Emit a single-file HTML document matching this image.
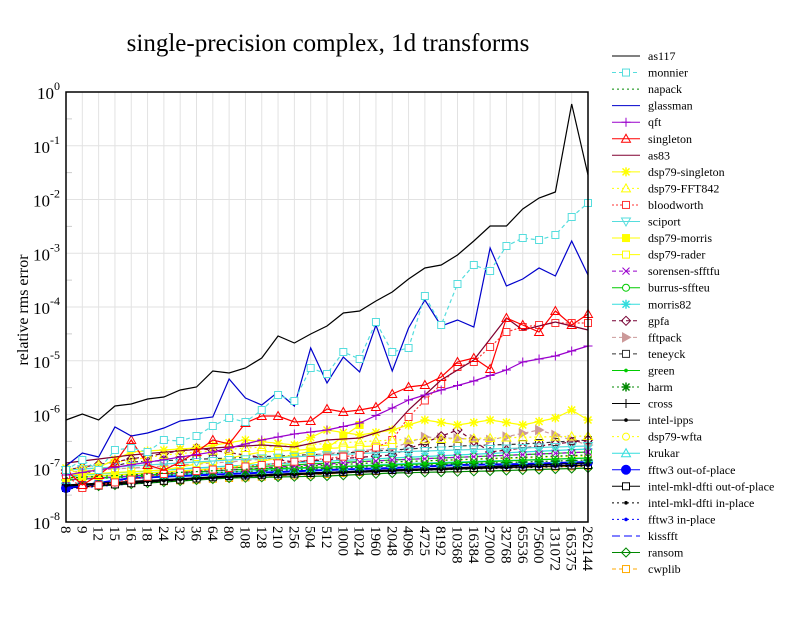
<!DOCTYPE html>
<html><head><meta charset="utf-8"><style>
body{margin:0;background:#fff}
svg{font-family:"Liberation Serif",serif}
</style></head><body>
<svg id="s" width="792" height="612" xmlns="http://www.w3.org/2000/svg"></svg>
<script>
const S=document.getElementById('s');
let h='';
const L=66,R=588,T=92,B=522,N=33,dx=(R-L)/(N-1),dec=(B-T)/8;
const labs=[8,9,12,15,16,18,24,32,36,64,80,108,128,210,256,504,512,1000,1024,1960,2048,4096,4725,8192,10368,16384,27000,32768,65536,75600,131072,165375,262144];
const X=i=>L+i*dx;
for(let i=0;i<N;i++)h+=`<line x1="${X(i)}" y1="${T}" x2="${X(i)}" y2="${B}" stroke="#e2e2e2"/>`;
for(let d=0;d<=8;d++){let y=T+d*dec;h+=`<line x1="${L}" y1="${y}" x2="${R}" y2="${y}" stroke="#e2e2e2"/>`;
 h+=`<text x="${L-6}" y="${y+7}" font-size="17" text-anchor="end">10<tspan dy="-9" font-size="12">${d==0?'0':'-'+d}</tspan></text>`;
 if(d<8){let y2=T+(d+0.5)*dec;h+=`<line x1="${L}" y1="${y2}" x2="${L+6}" y2="${y2}" stroke="#ccc"/>`;}}
for(let i=0;i<N;i++)h+=`<text transform="translate(${X(i)-5},${B+4}) rotate(90)" font-size="15">${labs[i]}</text>`;
h+=`<text x="328" y="51" font-size="25" text-anchor="middle">single-precision complex, 1d transforms</text>`;
h+=`<text transform="translate(28,310) rotate(-90)" font-size="16" text-anchor="middle">relative rms error</text>`;
function interp(pts,len){let a=[];let ks=Object.keys(pts).map(Number).sort((p,q)=>p-q);for(let i=0;i<N;i++){let j=0;while(j<ks.length-1&&ks[j+1]<i)j++;if(i<=ks[0]){a.push(pts[ks[0]]);continue;}if(i>=ks[ks.length-1]){a.push(pts[ks[ks.length-1]]);continue;}let k0=ks[j],k1=ks[j+1];a.push(pts[k0]+(pts[k1]-pts[k0])*(i-k0)/(k1-k0));}return len?a.slice(0,len):a;}
function mk(m,x,y,c,f){const s=3.5;switch(m){
case 'sq':return `<rect x="${x-s}" y="${y-s}" width="${2*s}" height="${2*s}" fill="${f?c:'#fff'}" stroke="${c}"/>`;
case 'tri':return `<polygon points="${x},${y-s-1} ${x-s-1},${y+s} ${x+s+1},${y+s}" fill="none" stroke="${c}"/>`;
case 'dtri':return `<polygon points="${x},${y+s+1} ${x-s-1},${y-s} ${x+s+1},${y-s}" fill="none" stroke="${c}"/>`;
case 'rtri':return `<polygon points="${x+s+1},${y} ${x-s},${y-s-1} ${x-s},${y+s+1}" fill="${c}" stroke="${c}"/>`;
case 'ci':return `<circle cx="${x}" cy="${y}" r="${s}" fill="${f?c:'#fff'}" stroke="${c}"/>`;
case 'bci':return `<circle cx="${x}" cy="${y}" r="4.5" fill="${c}" stroke="${c}"/>`;
case 'pl':return `<path d="M${x-s-1},${y}h${2*s+2}M${x},${y-s-1}v${2*s+2}" stroke="${c}"/>`;
case 'x':return `<path d="M${x-s},${y-s}l${2*s},${2*s}M${x-s},${y+s}l${2*s},${-2*s}" stroke="${c}"/>`;
case 'st':return `<path d="M${x-s-1},${y}h${2*s+2}M${x},${y-s-1}v${2*s+2}M${x-s},${y-s}l${2*s},${2*s}M${x-s},${y+s}l${2*s},${-2*s}" stroke="${c}" stroke-width="1.5"/>`;
case 'di':return `<polygon points="${x},${y-s-1} ${x+s+1},${y} ${x},${y+s+1} ${x-s-1},${y}" fill="none" stroke="${c}"/>`;
case 'dot':return `<circle cx="${x}" cy="${y}" r="1.8" fill="${c}"/>`;
}return '';}
const ser=[
['as117','#000','',null,[420,414,420,406,404,399,397,390,387,371,373,368,358,336,343,334,326,313,311,301,292,279,268,265,255,241,226,226,209,198,192,104,175]],
['monnier','#5dd','4,3','sq',[470,460,470,450,448,452,440,441,436,426,418,422,410,395,401,368,374,352,359,322,352,348,296,325,284,265,271,246,238,240,235,217,203]],
['napack','#080','2,3',null,interp({0:478,10:470,20:462,32:455})],
['glassman','#00c','',null,[466,453,457,427,436,433,428,421,419,417,379,398,405,392,406,348,383,357,372,325,371,328,300,326,320,327,248,286,279,268,276,241,275]],
['qft','#90c','','pl',interp({0:475,9:452,12:440,14:434,16:430,18:423,20:408,21:400,23:390,25:381,27:370,28:362,30:356,32:346})],
['singleton','#f00','','tri',[470,485,475,463,440,465,470,462,452,440,444,423,416,416,422,421,409,412,410,407,394,387,385,377,362,358,369,318,325,332,311,325,314]],
['as83','#800030','',null,interp({0:463,4:455,9:448,12:445,14:447,16:440,18:438,20:428,21:410,23:380,25:360,27:318,28:330,30:322,32:330})],
['dsp79-singleton','#ff0','','st',interp({0:468,1:475,4:452,8:448,11:440,14:445,16:430,18:435,20:430,22:420,24:425,26:420,28:425,30:418,31:410,32:420})],
['dsp79-FFT842','#ff0','2,3','tri',interp({0:470,6:455,11:448,20:440,32:436})],
['bloodworth','#f33','2,2','sq',interp({0:475,1:488,6:474,12:465,18:455,20:440,21:417,23:384,24:367,25:362,27:332,28:327,30:323,32:323})],
['sciport','#5dd','','dtri',interp({0:470,10:460,20:452,32:446})],
['dsp79-morris','#ff0','','sq',interp({0:478,10:468,16:448,18:425},19)],
['dsp79-rader','#ff0','','sq',interp({0:475,6:470,12:452,20:445},21)],
['sorensen-sfftfu','#90c','4,3','x',interp({0:480,10:470,20:460,32:452})],
['burrus-sffteu','#0c0','','ci',interp({0:478,10:468,20:460,32:452})],
['morris82','#3dd','','st',interp({0:476,10:466,20:458,32:449})],
['gpfa','#703','4,3','di',interp({0:470,8:448,14:462,20:455,24:430,26:452,32:440})],
['fftpack','#c99','4,3','rtri',interp({0:472,10:462,20:448,22:437,26:440,29:430,32:445})],
['teneyck','#333','4,3','sq',interp({0:478,4:462,10:458,16:454,20:450,24:446,28:444,32:440})],
['green','#0c0','','dot',interp({0:480,10:470,20:465,32:458})],
['harm','#080','2,3','st',interp({0:480,10:472,20:466,32:460})],
['cross','#000','','pl',interp({0:485,10:476,20:470,32:463})],
['intel-ipps','#000','','dot',interp({0:486,10:477,20:471,32:465})],
['dsp79-wfta','#ff0','2,3','ci',interp({0:478,10:470,20:462,32:456})],
['krukar','#3dd','','tri',interp({0:480,10:472,20:464,32:458})],
['fftw3 out-of-place','#00f','','bci',interp({0:488,4:478,10:474,16:470,20:468,24:465,28:464,32:462})],
['intel-mkl-dfti out-of-place','#000','','sq',interp({0:488,10:476,20:470,32:465})],
['intel-mkl-dfti in-place','#000','2,3','dot',interp({0:488,10:477,20:471,32:466})],
['fftw3 in-place','#00f','2,3','dot',interp({0:489,10:476,20:470,32:464})],
['kissfft','#00f','8,4',null,interp({0:487,10:476,20:470,32:463})],
['ransom','#080','','di',interp({0:488,5:483,10:478,16:476,20:473,26:471,32:468})],
['cwplib','#fa0','4,3','sq',interp({0:488,5:482,10:478,16:474,20:470,32:466})]
];
const order=[...ser.keys()];
order.slice().reverse().forEach(k=>{const [n,c,da,m,v]=ser[k];
 h+=`<polyline fill="none" stroke="${c}" stroke-width="${n.startsWith('fftw3 out')?2:1.2}" ${da?`stroke-dasharray="${da}"`:''} points="${v.map((y,i)=>X(i)+','+y).join(' ')}"/>`;
 if(m)v.forEach((y,i)=>h+=mk(m,X(i),y,c,m=='sq'&&(n=='dsp79-morris'||n=='intel-mkl-dfti in-place')));
});
h+=`<rect x="${L}" y="${T}" width="${R-L}" height="${B-T}" fill="none" stroke="#000" stroke-width="1.5"/>`;
ser.forEach((s,k)=>{const [n,c,da,m]=s;const y=56+k*16.55;
 h+=`<line x1="612" y1="${y}" x2="640" y2="${y}" stroke="${c}" ${da?`stroke-dasharray="${da}"`:''}/>`;
 if(m)h+=mk(m,626,y,c,m=='sq'&&(n=='dsp79-morris'||n=='intel-mkl-dfti in-place'));
 h+=`<text x="648" y="${y+4}" font-size="12">${n}</text>`;});
S.innerHTML=h;
</script>
</body></html>
